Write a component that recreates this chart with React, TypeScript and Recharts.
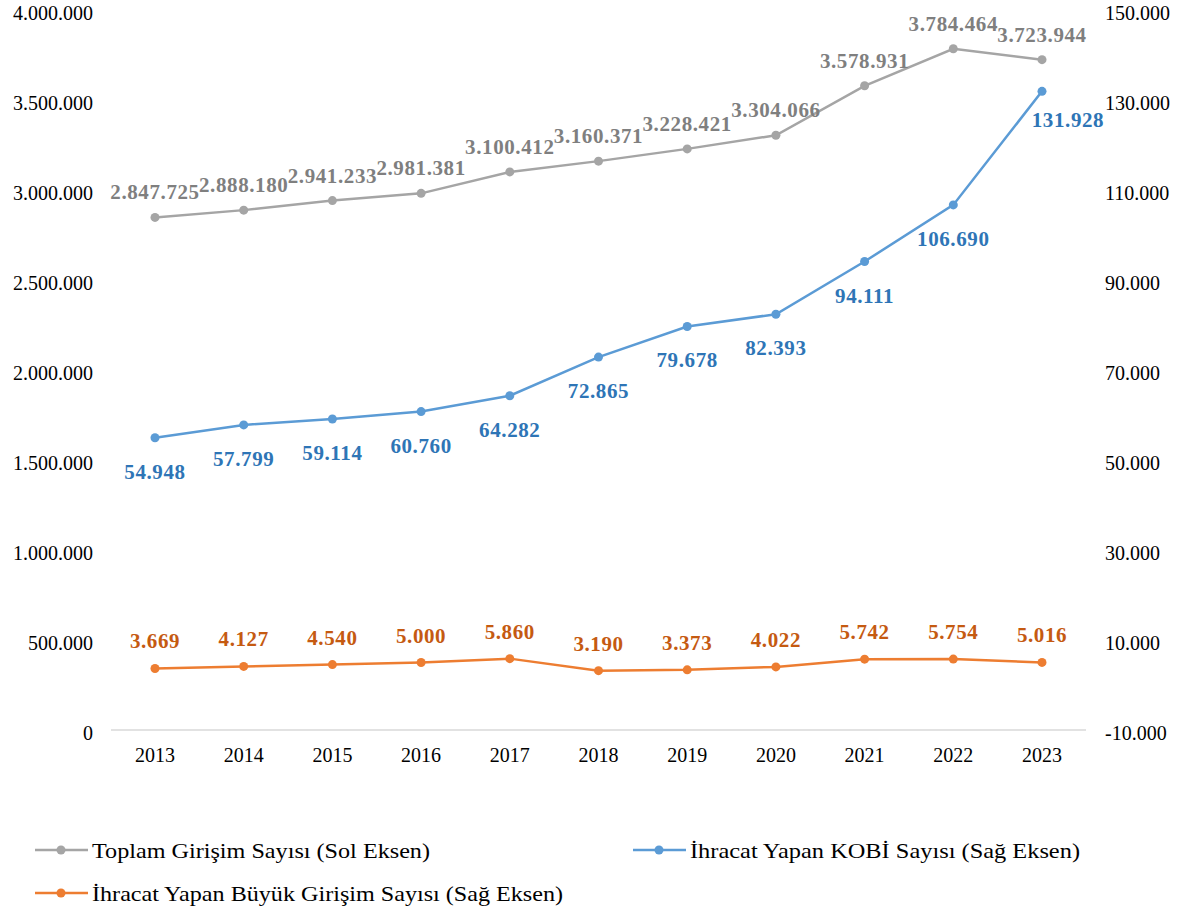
import { LineChart, Line, XAxis, YAxis, LabelList, Legend } from "recharts"

const years = ["2013", "2014", "2015", "2016", "2017", "2018", "2019", "2020", "2021", "2022", "2023"]
const toplam = [2847725, 2888180, 2941233, 2981381, 3100412, 3160371, 3228421, 3304066, 3578931, 3784464, 3723944]
const kobi = [54948, 57799, 59114, 60760, 64282, 72865, 79678, 82393, 94111, 106690, 131928]
const buyuk = [3669, 4127, 4540, 5000, 5860, 3190, 3373, 4022, 5742, 5754, 5016]

const leftTicks = [0, 500000, 1000000, 1500000, 2000000, 2500000, 3000000, 3500000, 4000000]
const rightTicks = [-10000, 10000, 30000, 50000, 70000, 90000, 110000, 130000, 150000]

const GRAY = "#A5A5A5"
const GRAY_TXT = "#7F7F7F"
const BLUE = "#5B9BD5"
const BLUE_TXT = "#2E75B6"
const ORANGE = "#ED7D31"
const ORANGE_TXT = "#C55A11"
const FONT = "Liberation Serif"

const data = years.map((y, i) => ({ year: y, toplam: toplam[i], kobi: kobi[i], buyuk: buyuk[i] }))

function fmt(v: number) {
  const s = Math.abs(v).toString().replace(/\B(?=(\d{3})+(?!\d))/g, ".")
  return v < 0 ? "-" + s : s
}

function makeLabel(color: string, dy: number, lastDx = 0, lastDy?: number) {
  return (props: any) => {
    const { x, y, value, index } = props
    const isLast = index === years.length - 1
    const ox = isLast ? lastDx : 0
    const oy = isLast && lastDy !== undefined ? lastDy : dy
    return (
      <text x={x + ox} y={y + oy} fill={color} textAnchor="middle" dominantBaseline="central"
        style={{ fontFamily: FONT, fontSize: 21, fontWeight: "bold", letterSpacing: 0.6 }}>
        {fmt(value)}
      </text>
    )
  }
}

// axis tick renderers (Excel puts the labels a touch below the value line)
function LeftTick(props: any) {
  const { x, y, payload } = props
  return (
    <text x={x - 10} y={y + 3} textAnchor="end" dominantBaseline="central" fill="#000"
      style={{ fontFamily: FONT, fontSize: 20 }}>
      {fmt(payload.value)}
    </text>
  )
}

function RightTick(props: any) {
  const { x, y, payload } = props
  return (
    <text x={x + 11} y={y + 3} textAnchor="start" dominantBaseline="central" fill="#000"
      style={{ fontFamily: FONT, fontSize: 20 }}>
      {fmt(payload.value)}
    </text>
  )
}

function BottomTick(props: any) {
  const { x, y, payload } = props
  return (
    <text x={x} y={y + 17} textAnchor="middle" dominantBaseline="central" fill="#000"
      style={{ fontFamily: FONT, fontSize: 20 }}>
      {payload.value}
    </text>
  )
}

const legendItems = [
  { name: "Toplam Girişim Sayısı (Sol Eksen)", color: GRAY, x: 35, y: 850, len: 338 },
  { name: "İhracat Yapan KOBİ Sayısı (Sağ Eksen)", color: BLUE, x: 633, y: 850, len: 390 },
  { name: "İhracat Yapan Büyük Girişim Sayısı (Sağ Eksen)", color: ORANGE, x: 35, y: 893, len: 471 },
]

function LegendContent() {
  const top = 820
  return (
    <svg width={1189} height={95} style={{ display: "block" }}>
      {legendItems.map((it) => (
        <g key={it.name}>
          <line x1={it.x} x2={it.x + 53} y1={it.y - top} y2={it.y - top} stroke={it.color} strokeWidth={2.5} />
          <circle cx={it.x + 26} cy={it.y - top} r={4.5} fill={it.color} />
          <text x={it.x + 57} y={it.y - top} dominantBaseline="central" fill="#000"
            style={{ fontFamily: FONT, fontSize: 22 }}
            textLength={it.len} lengthAdjust="spacingAndGlyphs">
            {it.name}
          </text>
        </g>
      ))}
    </svg>
  )
}

export default function App() {
  return (
    <div style={{ position: "absolute", left: 0, top: 0, width: 1189, height: 915, background: "#fff", fontFamily: FONT }}>
      <LineChart width={1189} height={915} data={data} margin={{ top: 10, right: 0, bottom: 155, left: 0 }}>
        <XAxis dataKey="year" height={30} tickLine={false} axisLine={{ stroke: "#D9D9D9", strokeWidth: 1.5 }}
          tick={<BottomTick />} padding={{ left: 44, right: 44 }} interval={0} />
        <YAxis yAxisId="left" orientation="left" width={111} domain={[0, 4000000]} ticks={leftTicks}
          axisLine={false} tickLine={false} tick={<LeftTick />} interval={0} />
        <YAxis yAxisId="right" orientation="right" width={103} domain={[-10000, 150000]} ticks={rightTicks}
          axisLine={false} tickLine={false} tick={<RightTick />} interval={0} />
        <Line yAxisId="left" dataKey="toplam" stroke={GRAY} strokeWidth={2.5} isAnimationActive={false}
          dot={{ r: 4.5, fill: GRAY, stroke: GRAY, strokeWidth: 0 }} activeDot={false}>
          <LabelList dataKey="toplam" content={makeLabel(GRAY_TXT, -25)} />
        </Line>
        <Line yAxisId="right" dataKey="kobi" stroke={BLUE} strokeWidth={2.5} isAnimationActive={false}
          dot={{ r: 4.5, fill: BLUE, stroke: BLUE, strokeWidth: 0 }} activeDot={false}>
          <LabelList dataKey="kobi" content={makeLabel(BLUE_TXT, 34, 26, 29)} />
        </Line>
        <Line yAxisId="right" dataKey="buyuk" stroke={ORANGE} strokeWidth={2.5} isAnimationActive={false}
          dot={{ r: 4.5, fill: ORANGE, stroke: ORANGE, strokeWidth: 0 }} activeDot={false}>
          <LabelList dataKey="buyuk" content={makeLabel(ORANGE_TXT, -27)} />
        </Line>
        <Legend layout="horizontal" verticalAlign="middle" align="center" content={() => <LegendContent />}
          wrapperStyle={{ position: "absolute", top: 820, left: 0, width: 1189, height: 95 }} />
      </LineChart>
    </div>
  )
}
